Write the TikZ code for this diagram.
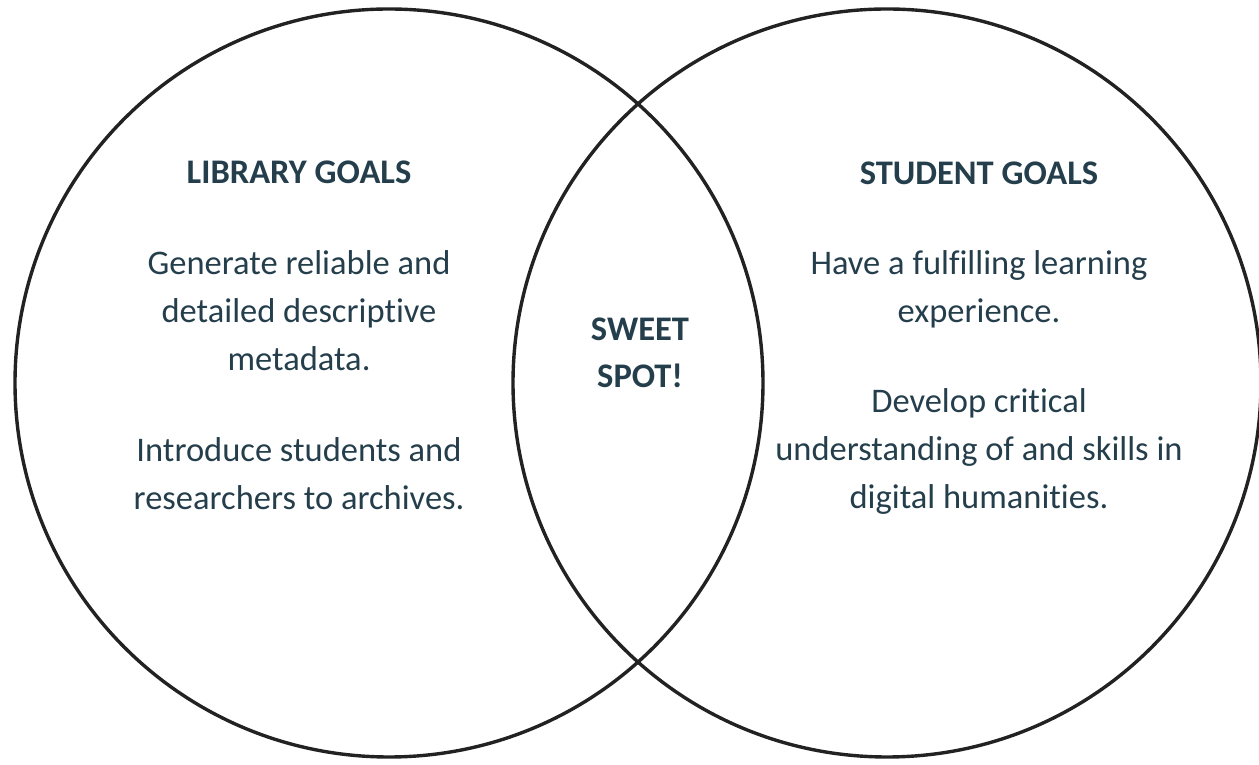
\documentclass[tikz,border=0pt]{standalone}
\usepackage{fontspec}
\setmainfont{Carlito}[Ligatures=NoCommon]
\usepackage{tikz}
\definecolor{slate}{RGB}{37,62,76}
\definecolor{rim}{RGB}{34,34,34}

\begin{document}
\begin{tikzpicture}[x=1pt,y=1pt,
  ring/.style={draw=rim,line width=3.4pt,circle,minimum size=748pt,inner sep=0pt},
  goal/.style={text=slate,font=\fontsize{34.5}{48}\selectfont,align=center,anchor=base,inner sep=0pt},
  head/.style={goal,font=\fontsize{34.5}{47}\selectfont\bfseries}]
\useasboundingbox (0,0) rectangle (1259,765);
\node [ring] (lib) at (389,382) {};
\node [ring] (stu) at (887,382) {};
% base anchor sits on the last line
\node [head] (libhead) at (299,581) {LIBRARY GOALS};
\node [goal] (libone) at (299,394) {Generate reliable and\\detailed descriptive\\metadata.};
\node [goal] (libtwo) at (299,255) {Introduce students and\\researchers to archives.};
\node [head] (sweet) at (640,377) {SWEET\\SPOT!};
\node [head] (stuhead) at (979,580) {STUDENT GOALS};
\node [goal] (stuone) at (979,442) {Have a fulfilling learning\\experience.};
\node [goal] (stutwo) at (979,256) {Develop critical\\understanding of and skills in\\digital humanities.};
\end{tikzpicture}
\end{document}
